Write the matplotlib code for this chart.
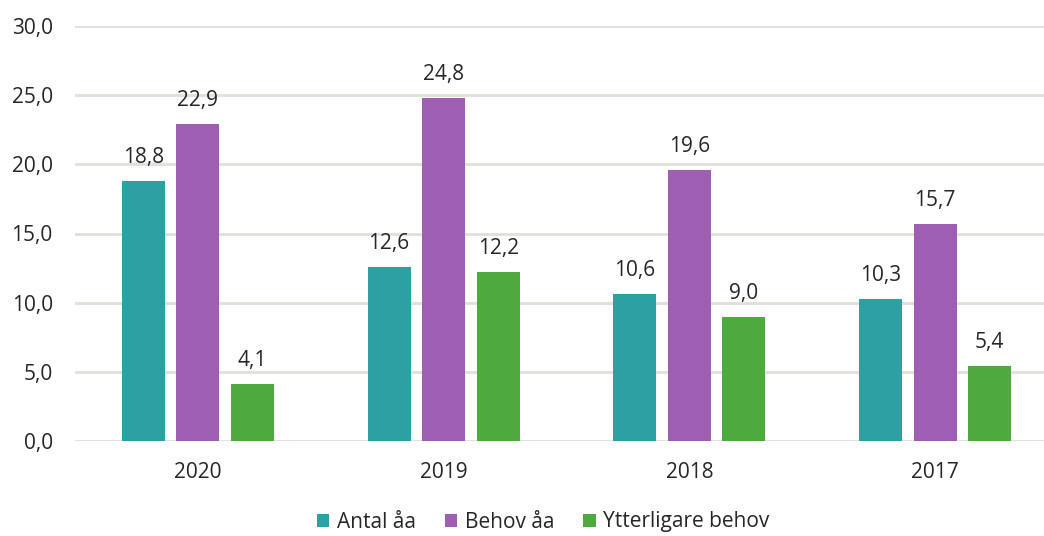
import matplotlib
matplotlib.use("Agg")
import matplotlib.pyplot as plt
import numpy as np

plt.rcParams['font.family'] = ['Open Sans', 'DejaVu Sans']

years = ["2020", "2019", "2018", "2017"]
antal = [18.8, 12.6, 10.6, 10.3]
behov = [22.9, 24.8, 19.6, 15.7]
ytterligare = [4.1, 12.2, 9.0, 5.4]

series = [("Antal åa", antal, "#2CA1A4"),
          ("Behov åa", behov, "#9E5FB3"),
          ("Ytterligare behov", ytterligare, "#4EAA3F")]

txt = "#262626"
fs = 15

fig = plt.figure(figsize=(10.44, 5.36), dpi=100)
ax = fig.add_axes([75/1044, 1 - 441/536, 983/1044, 415/536])

x = np.arange(len(years))
w = 0.175
step = 0.222
for i, (name, vals, col) in enumerate(series):
    pos = x + (i - 1) * step
    ax.bar(pos, vals, width=w, color=col, label=name, zorder=3)
    for p, v in zip(pos, vals):
        ax.text(p, v + 1.3, f"{v:.1f}".replace(".", ","), ha="center", va="baseline",
                fontsize=fs, color=txt)

ax.set_ylim(0, 30)
ax.set_xlim(-0.5, 3.5)
ax.set_yticks(np.arange(0, 31, 5))
ax.set_yticklabels([f"{t:.1f}".replace(".", ",") for t in np.arange(0, 31, 5)])
ax.set_xticks(x)
ax.set_xticklabels(years)
ax.tick_params(axis="both", length=0, labelsize=fs, colors=txt)
ax.tick_params(axis="x", pad=15)
ax.tick_params(axis="y", pad=16)
ax.yaxis.grid(True, color="#E0E0DA", linewidth=2, zorder=0)
for s in ax.spines.values():
    s.set_visible(False)

fig.legend(loc="center", bbox_to_anchor=(543/1044, 1 - 522/536), ncol=3, frameon=False,
           fontsize=fs, handlelength=0.6, handleheight=0.6, handletextpad=0.35,
           columnspacing=1.4, labelcolor=txt)

fig.savefig("out.png", dpi=100)
